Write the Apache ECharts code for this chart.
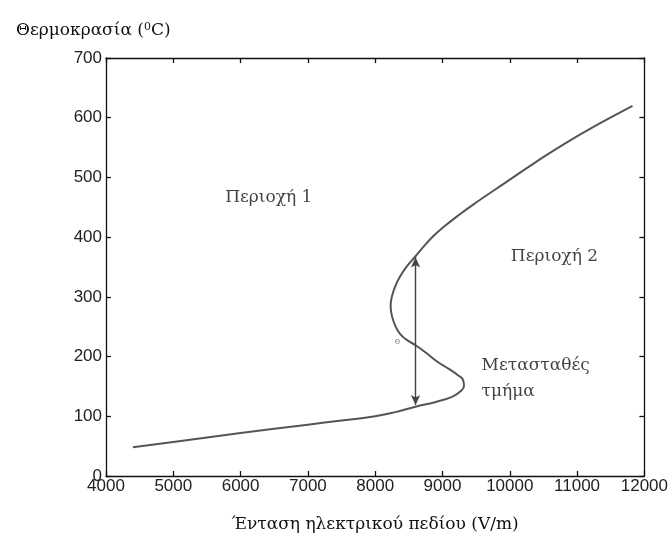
<!DOCTYPE html>
<html>
<head>
<meta charset="utf-8">
<script src="https://cdn.jsdelivr.net/npm/echarts@6/dist/echarts.min.js"></script>
<style>html,body{margin:0;padding:0;background:#fff}#c{width:671px;height:538px}</style>
</head>
<body>
<div id="c"></div>
<script>
// Curve points (Electric field E in V/m, temperature T in °C), in order along the S-curve
const curveE = [4400, 5000, 6000, 7000, 7500, 8000, 8300, 8600, 8900, 9150, 9270, 9320, 9305, 9240, 9100, 8930, 8760, 8600, 8470, 8370, 8290, 8245, 8230, 8250, 8300, 8370, 8470, 8600, 8710, 8858, 9006, 9254, 9500, 9930, 10365, 10836, 11330, 11824];
const curveT = [48, 57, 72, 86, 93, 100, 107, 116, 124, 133, 142, 151, 161, 168, 179, 191, 206, 219, 228, 238, 254, 270, 285, 301, 318, 334, 351, 368, 383, 401, 416, 438, 458, 491, 524, 558, 590, 620];

// Double-headed jump arrow
const arrowE = 8600;
const arrowT = [119, 366];

// Text annotations
const noteText = ['Περιοχή 1', 'Περιοχή 2', 'Μετασταθές', 'τμήμα', 'e'];
const noteE = [6419, 10664, 9581, 9581, 8330];
const noteT = [467, 368, 185, 142, 225];

// Axes
const xTicks = [4000, 5000, 6000, 7000, 8000, 9000, 10000, 11000, 12000];
const yTicks = [0, 100, 200, 300, 400, 500, 600, 700];
const xTitle = 'Ένταση ηλεκτρικού πεδίου (V/m)';
const yTitleMain = 'Θερμοκρασία (';
const yTitleSup = '0';
const yTitleEnd = 'C)';

const serif = "'DejaVu Serif', 'Liberation Serif', serif";
const sans = "'Liberation Sans', Arial, sans-serif";

const chart = echarts.init(document.getElementById('c'), null, {renderer: 'canvas'});

const axisCommon = {
  type: 'value',
  axisLine: {show: true, onZero: false, lineStyle: {color: '#111', width: 1.3}},
  axisTick: {show: true, inside: true, length: 5, lineStyle: {color: '#111', width: 1.3}},
  splitLine: {show: false}
};

chart.setOption({
  animation: false,
  backgroundColor: '#fff',
  title: {
    text: '{a|' + yTitleMain + '}{s|' + yTitleSup + '}{a|' + yTitleEnd + '}',
    left: 11, top: 17,
    textStyle: {
      fontWeight: 'normal',
      rich: {
        a: {fontFamily: serif, fontSize: 17, fontWeight: 'normal', color: '#111'},
        s: {fontFamily: serif, fontSize: 11, fontWeight: 'normal', color: '#111', verticalAlign: 'top', padding: [0, 0, 7, 0]}
      }
    }
  },
  grid: {left: 106, right: 26, top: 58, bottom: 60},
  xAxis: [
    Object.assign({}, axisCommon, {
      position: 'bottom', min: xTicks[0], max: xTicks[xTicks.length - 1], interval: 1000,
      name: xTitle, nameLocation: 'middle', nameGap: 40,
      nameTextStyle: {fontFamily: serif, fontSize: 17, color: '#111'},
      axisLabel: {fontFamily: sans, fontSize: 17, color: '#222', margin: 2, formatter: v => String(v)}
    }),
    Object.assign({}, axisCommon, {
      position: 'top', min: xTicks[0], max: xTicks[xTicks.length - 1], interval: 1000,
      axisLabel: {show: false}
    })
  ],
  yAxis: [
    Object.assign({}, axisCommon, {
      position: 'left', min: yTicks[0], max: yTicks[yTicks.length - 1], interval: 100,
      axisLabel: {fontFamily: sans, fontSize: 17, color: '#222', margin: 4, formatter: v => String(v)}
    }),
    Object.assign({}, axisCommon, {
      position: 'right', min: yTicks[0], max: yTicks[yTicks.length - 1], interval: 100,
      axisLabel: {show: false}
    })
  ],
  series: [
    {
      type: 'line',
      data: curveE.map((e, i) => [e, curveT[i]]),
      smooth: 0.5,
      showSymbol: false,
      lineStyle: {color: '#555', width: 2},
      z: 3,
      markLine: {
        silent: true,
        symbol: ['arrow', 'arrow'],
        symbolSize: [7, 10],
        label: {show: false},
        lineStyle: {color: '#444', width: 1.4, type: 'solid'},
        data: [[{coord: [arrowE, arrowT[0]]}, {coord: [arrowE, arrowT[1]]}]]
      }
    },
    {
      type: 'scatter',
      symbolSize: 0,
      silent: true,
      data: noteText.map((t, i) => ({
        value: [noteE[i], noteT[i]],
        label: {
          show: true,
          formatter: t,
          position: i >= 2 && i <= 3 ? 'right' : 'inside',
          distance: 0,
          fontFamily: serif,
          fontSize: i === 4 ? 10 : 17,
          color: i === 4 ? '#8a6a50' : '#111'
        }
      }))
    }
  ]
});
</script>
</body>
</html>
